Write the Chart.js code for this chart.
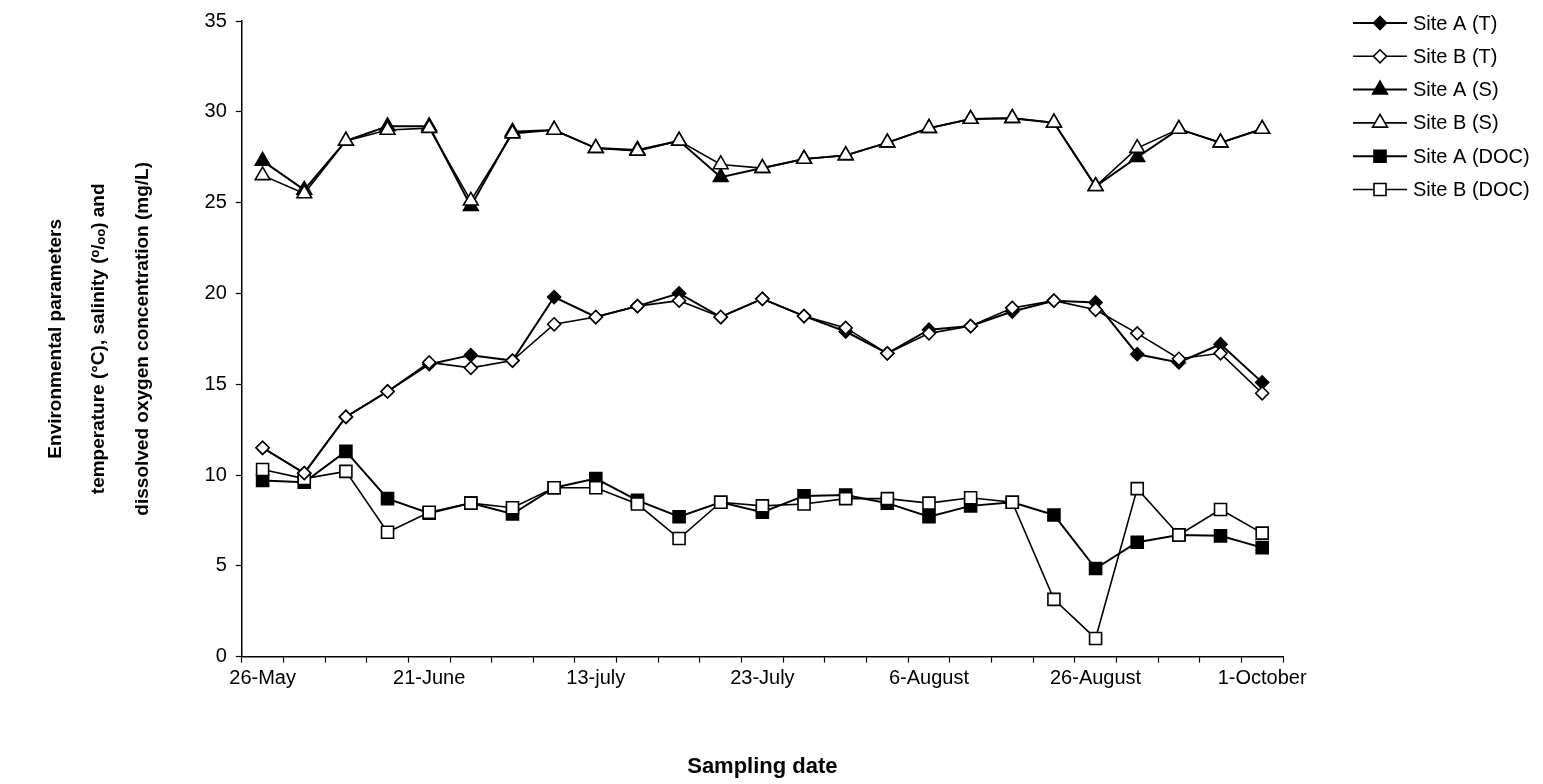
<!DOCTYPE html>
<html>
<head>
<meta charset="utf-8">
<title>Environmental parameters</title>
<script src="https://cdn.jsdelivr.net/npm/chart.js@4.4.1/dist/chart.umd.min.js"></script>
<style>
  html, body { margin: 0; padding: 0; background: #fff; }
  #wrap { width: 1543px; height: 784px; }
</style>
</head>
<body>
<div id="wrap"><canvas id="envChart" width="1543" height="784"></canvas></div>
<script>
// sampling dates (only every 4th one is labelled on the original axis)
const sampleDates = ['26-May', '', '', '', '21-June', '', '', '', '13-july', '', '', '',
  '23-July', '', '', '', '6-August', '', '', '', '26-August', '', '', '', '1-October'];

// temperature (°C)
const siteA_T = [11.5, 10.1, 13.2, 14.6, 16.1, 16.6, 16.3, 19.8, 18.7, 19.3, 20.0, 18.7, 19.7,
  18.75, 17.9, 16.7, 18.0, 18.2, 19.0, 19.6, 19.5, 16.65, 16.2, 17.2, 15.1];
const siteB_T = [11.5, 10.1, 13.2, 14.6, 16.2, 15.9, 16.3, 18.3, 18.7, 19.3, 19.6, 18.7, 19.7,
  18.75, 18.1, 16.7, 17.8, 18.2, 19.2, 19.6, 19.1, 17.8, 16.4, 16.7, 14.5];

// salinity
const siteA_S = [27.3, 25.7, 28.4, 29.2, 29.2, 24.8, 28.9, 29.0, 28.0, 27.9, 28.4, 26.4, 26.9,
  27.4, 27.6, 28.3, 29.1, 29.6, 29.65, 29.4, 25.9, 27.5, 29.05, 28.3, 29.05];
const siteB_S = [26.5, 25.5, 28.4, 29.0, 29.1, 25.1, 28.8, 29.0, 28.0, 27.85, 28.4, 27.1, 26.9,
  27.4, 27.6, 28.3, 29.1, 29.6, 29.65, 29.4, 25.9, 28.0, 29.05, 28.3, 29.05];

// dissolved oxygen (mg/L)
const siteA_DOC = [9.7, 9.6, 11.3, 8.7, 7.9, 8.45, 7.85, 9.3, 9.8, 8.6, 7.7, 8.5, 7.95,
  8.85, 8.9, 8.45, 7.7, 8.3, 8.5, 7.8, 4.85, 6.3, 6.7, 6.65, 6.0];
const siteB_DOC = [10.3, 9.8, 10.2, 6.85, 7.95, 8.45, 8.2, 9.3, 9.3, 8.4, 6.5, 8.5, 8.3,
  8.4, 8.7, 8.7, 8.45, 8.75, 8.5, 3.15, 1.0, 9.25, 6.7, 8.1, 6.8];

const yTicks = [0, 5, 10, 15, 20, 25, 30, 35];

const FONT = '"Liberation Sans", Arial, sans-serif';

function series(label, data, style, filled, radius, lineW, order) {
  return {
    label: label,
    data: data,
    borderColor: '#000',
    backgroundColor: filled ? '#000' : '#fff',
    borderWidth: lineW,
    pointStyle: style,
    pointRadius: radius,
    pointBorderWidth: 1.6,
    pointBackgroundColor: filled ? '#000' : '#fff',
    pointBorderColor: '#000',
    tension: 0,
    fill: false,
    order: order
  };
}

const datasets = [
  series('Site A (T)', siteA_T, 'rectRot', true, 6.5, 2, 1),
  series('Site B (T)', siteB_T, 'rectRot', false, 6.5, 1.6, 0),
  series('Site A (S)', siteA_S, 'triangle', true, 8.5, 2, 1),
  series('Site B (S)', siteB_S, 'triangle', false, 8.5, 1.6, 0),
  series('Site A (DOC)', siteA_DOC, 'rect', true, 8.5, 2, 1),
  series('Site B (DOC)', siteB_DOC, 'rect', false, 8.5, 1.6, 0)
];

// small marker painter for the legend
function marker(ctx, style, x, y, r, fill) {
  ctx.beginPath();
  if (style === 'rectRot') {
    ctx.moveTo(x, y - r); ctx.lineTo(x + r, y); ctx.lineTo(x, y + r); ctx.lineTo(x - r, y);
  } else if (style === 'triangle') {
    ctx.moveTo(x, y - r);
    ctx.lineTo(x + r * Math.sqrt(3) / 2, y + r / 2);
    ctx.lineTo(x - r * Math.sqrt(3) / 2, y + r / 2);
  } else {
    const s = r * Math.SQRT1_2;
    ctx.rect(x - s, y - s, 2 * s, 2 * s);
  }
  ctx.closePath();
  ctx.fillStyle = fill;
  ctx.fill();
  ctx.lineWidth = 1.6;
  ctx.strokeStyle = '#000';
  ctx.stroke();
}

const sideLegend = {
  id: 'sideLegend',
  afterDraw(chart) {
    const ctx = chart.ctx;
    const x0 = 1353, x1 = 1407, top = 23, step = 33.3;
    ctx.save();
    chart.data.datasets.forEach((ds, i) => {
      const y = top + i * step;
      ctx.beginPath();
      ctx.moveTo(x0, y);
      ctx.lineTo(x1, y);
      ctx.lineWidth = ds.borderWidth;
      ctx.strokeStyle = '#000';
      ctx.stroke();
      marker(ctx, ds.pointStyle, (x0 + x1) / 2, y, ds.pointRadius, ds.pointBackgroundColor);
      ctx.fillStyle = '#000';
      ctx.font = '20px ' + FONT;
      ctx.textAlign = 'left';
      ctx.textBaseline = 'middle';
      ctx.fillText(ds.label, 1413, y + 1);
    });
    ctx.restore();
  }
};

new Chart(document.getElementById('envChart').getContext('2d'), {
  type: 'line',
  data: { labels: sampleDates, datasets: datasets },
  plugins: [sideLegend],
  options: {
    responsive: false,
    animation: false,
    devicePixelRatio: 1,
    layout: { padding: { left: 0, right: 260, top: 9, bottom: 0 } },
    plugins: {
      legend: { display: false },
      tooltip: { enabled: false }
    },
    scales: {
      x: {
        type: 'category',
        offset: true,
        border: { display: true, color: '#000', width: 1.5 },
        grid: {
          offset: true,
          drawOnChartArea: false,
          drawTicks: true,
          tickLength: 6,
          tickColor: '#000',
          tickWidth: 1.2
        },
        ticks: {
          autoSkip: false,
          maxRotation: 0,
          padding: 4,
          color: '#000',
          font: { family: FONT, size: 20 }
        },
        title: {
          display: true,
          text: 'Sampling date',
          color: '#000',
          font: { family: FONT, size: 22, weight: 'bold' },
          padding: { top: 59, bottom: 4 }
        }
      },
      y: {
        min: 0,
        max: 35,
        afterBuildTicks(axis) { axis.ticks = yTicks.map(v => ({ value: v })); },
        border: { display: true, color: '#000', width: 1.5 },
        grid: {
          drawOnChartArea: false,
          drawTicks: true,
          tickLength: 6,
          tickColor: '#000',
          tickWidth: 1.2
        },
        ticks: {
          padding: 9,
          color: '#000',
          font: { family: FONT, size: 20 }
        },
        title: {
          display: true,
          text: ['Environmental parameters',
            'temperature (\u00B0C), salinity (\u1D52/\u2092\u2092) and',
            'dissolved oxygen concentration (mg/L)'],
          color: '#000',
          font: { family: FONT, size: 19, weight: 'bold', lineHeight: 2.29 },
          padding: { top: 34, bottom: 31 }
        }
      }
    }
  }
});
</script>
</body>
</html>
